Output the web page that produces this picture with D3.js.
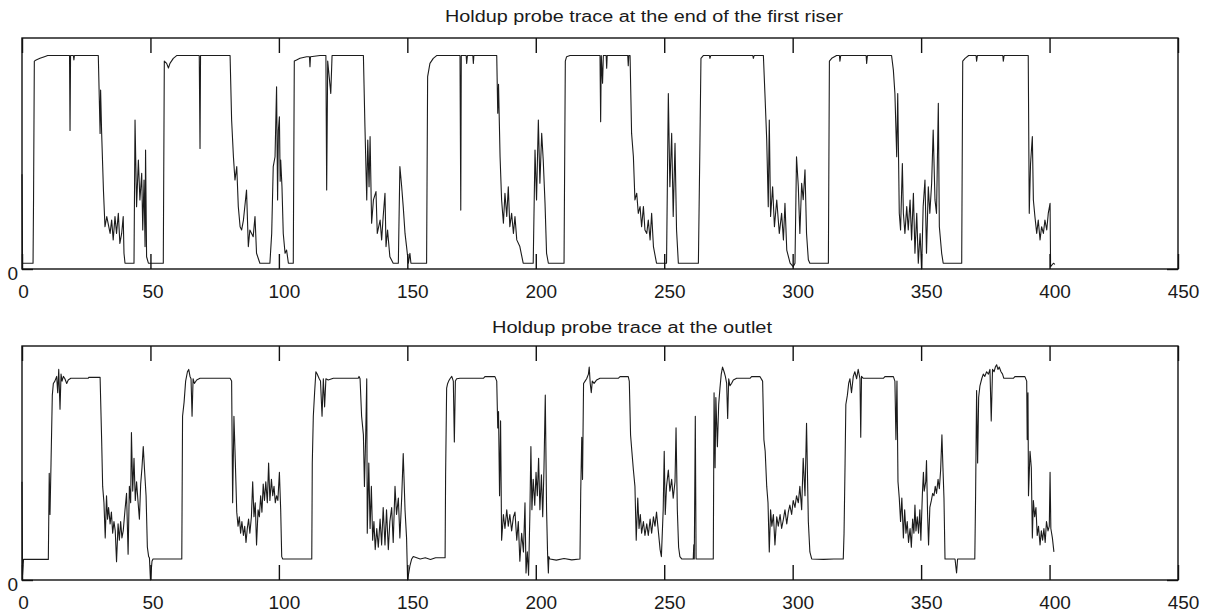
<!DOCTYPE html>
<html>
<head>
<meta charset="utf-8">
<script src="https://cdn.jsdelivr.net/npm/d3@7"></script>
<style>
  html, body { margin: 0; padding: 0; background: #fff; }
  svg { display: block; }
  text { font-family: "Liberation Sans", Arial, sans-serif; fill: #1a1a1a; }
</style>
</head>
<body>
<svg id="chart" width="1214" height="613"></svg>
<script>
// ---- data ----
const xTicks = [0, 50, 100, 150, 200, 250, 300, 350, 400, 450];
const xTickLabels = ["0", "50", "100", "150", "200", "250", "300", "350", "400", "450"];
const yTicks = [0];
const yTickLabels = ["0"];
const titles = ["Holdup probe trace at the end of the first riser", "Holdup probe trace at the outlet"];

const riserTrace = [
[0,0.41],[0.2,0.025],[4.3,0.025],[4.5,0.31],[4.8,0.90],[5.5,0.905],[7,0.912],[9,0.92],[10,0.924],[18.5,0.924],[18.7,0.60],[18.9,0.924],[20,0.924],[20.2,0.905],[20.4,0.924],[29.7,0.924],
[30.4,0.587],[30.6,0.775],[31.0,0.59],[31.7,0.342],[32.3,0.183],[33.0,0.227],[34.3,0.154],[34.9,0.212],[35.5,0.126],[36.2,0.227],[36.8,0.154],[37.5,0.241],[38.1,0.111],[38.8,0.154],[39.4,0.227],[39.7,0.068],[40.1,0.025],
[43.6,0.025],[44.0,0.645],[44.6,0.270],[45.3,0.472],[45.9,0.299],[46.6,0.414],[47.0,0.169],[47.5,0.385],[47.9,0.097],[48.1,0.515],[48.5,0.053],[49.2,0.025],
[55.0,0.025],[55.4,0.90],[56.3,0.89],[57.0,0.87],[57.6,0.89],[58.9,0.912],[60.2,0.924],[69.0,0.924],[69.3,0.522],[69.5,0.924],[81.0,0.924],
[81.6,0.645],[82.3,0.486],[82.9,0.385],[83.6,0.443],[84.2,0.270],[84.9,0.183],[85.5,0.169],[86.2,0.212],[87.4,0.342],[88.1,0.097],[88.7,0.169],[90.0,0.140],[90.7,0.227],[91.3,0.068],[92.6,0.025],
[96.5,0.025],[97.2,0.154],[97.8,0.443],[98.5,0.486],[99.1,0.789],[99.5,0.299],[99.8,0.60],[100.2,0.659],[100.5,0.38],[100.7,0.472],[101.2,0.356],[101.7,0.154],[102.4,0.068],[103.0,0.082],[103.7,0.025],
[105.6,0.025],[106.0,0.90],[106.9,0.905],[108.2,0.912],[110.8,0.919],[111.9,0.919],[112.1,0.876],[112.3,0.919],[116.0,0.924],[118.3,0.924],[118.6,0.342],[119.0,0.90],[119.6,0.83],[120.2,0.76],[120.7,0.924],[132.9,0.924],
[133.5,0.616],[134.2,0.299],[134.6,0.558],[135.1,0.356],[135.5,0.573],[136.1,0.198],[136.8,0.299],[137.8,0.335],[138.3,0.154],[139.4,0.212],[140.0,0.126],[140.6,0.227],[141.3,0.328],[141.7,0.097],[142.3,0.169],[143.2,0.053],[144.5,0.025],
[146.5,0.025],[147.1,0.443],[147.8,0.356],[148.4,0.270],[149.1,0.154],[149.7,0.097],[150.4,0.025],[151.0,0.068],[151.4,0.025],
[157.5,0.025],[157.9,0.833],[158.8,0.89],[160.1,0.912],[161.4,0.924],[170.5,0.924],[170.8,0.255],[171.0,0.924],[172.9,0.924],[173.1,0.89],[173.4,0.924],[175.5,0.924],[175.7,0.89],[175.9,0.924],[184.8,0.924],
[185.2,0.674],[185.5,0.80],[186.1,0.486],[186.7,0.299],[187.4,0.198],[188.0,0.328],[188.7,0.227],[189.3,0.356],[189.9,0.183],[190.6,0.241],[191.3,0.154],[191.9,0.227],[192.6,0.126],[193.8,0.097],[195.1,0.025],
[199.0,0.025],[199.7,0.515],[200.3,0.299],[201.0,0.645],[201.6,0.371],[202.3,0.587],[202.9,0.472],[203.6,0.284],[204.2,0.068],[204.9,0.025],
[211.0,0.025],[211.5,0.90],[212.0,0.919],[213.3,0.924],[225.0,0.924],[225.25,0.638],[225.5,0.924],[226.0,0.804],[226.3,0.924],[227.4,0.924],[227.6,0.869],[227.8,0.924],[235.8,0.924],[236.0,0.88],[236.2,0.924],[236.7,0.924],
[237.3,0.587],[238.0,0.486],[238.6,0.299],[239.3,0.328],[239.9,0.241],[240.6,0.270],[241.2,0.183],[241.9,0.270],[242.5,0.169],[243.2,0.154],[243.8,0.212],[244.5,0.126],[245.1,0.241],[245.8,0.097],[247.0,0.025],
[250.9,0.025],[251.6,0.76],[252.2,0.356],[252.9,0.587],[253.5,0.227],[254.2,0.544],[254.8,0.169],[255.5,0.025],
[263.3,0.025],[263.9,0.544],[264.3,0.912],[265.2,0.924],[267.6,0.924],[267.8,0.912],[268.1,0.924],[284.5,0.924],[284.7,0.912],[285.0,0.924],[288.6,0.924],
[289.2,0.760],[289.9,0.558],[290.5,0.270],[290.9,0.645],[291.4,0.227],[292.2,0.356],[292.9,0.183],[293.8,0.299],[294.8,0.154],[295.7,0.241],[296.4,0.126],[297.0,0.284],[297.7,0.082],[299.0,0.025],[300.2,0.01],[300.9,0.025],
[301.5,0.486],[302.2,0.356],[302.8,0.154],[303.5,0.371],[304.1,0.30],[304.8,0.429],[305.4,0.154],[306.1,0.04],[306.7,0.025],
[313.9,0.025],[314.3,0.90],[315.2,0.912],[317.1,0.924],[318.2,0.924],[318.4,0.90],[318.7,0.924],[328.6,0.924],[328.8,0.89],[329.1,0.924],[338.5,0.924],
[339.2,0.861],[339.8,0.760],[340.5,0.486],[340.9,0.760],[341.5,0.241],[342.0,0.169],[342.7,0.457],[343.1,0.241],[343.7,0.154],[344.4,0.270],[345.0,0.169],[345.7,0.299],[346.3,0.126],[347.0,0.328],[347.6,0.068],[348.3,0.241],[348.9,0.025],[349.6,0.154],[350.2,0.0],[350.8,0.270],[351.5,0.385],[352.1,0.068],[352.8,0.356],[353.4,0.241],[354.1,0.371],[354.7,0.602],[355.4,0.299],[356.0,0.241],[356.7,0.717],[357.1,0.183],[358.0,0.068],[358.6,0.025],
[365.8,0.025],[366.2,0.90],[367.1,0.912],[368.5,0.924],[371.4,0.924],[371.6,0.90],[371.9,0.924],[381.8,0.924],[382.0,0.90],[382.3,0.924],[391.7,0.924],
[392.1,0.241],[392.6,0.457],[393.3,0.573],[393.7,0.299],[394.3,0.227],[395.0,0.154],[395.6,0.212],[396.3,0.126],[396.9,0.183],[397.6,0.154],[398.2,0.212],[398.9,0.169],[399.5,0.241],[400.2,0.284],[400.4,0.01],[401.5,0.025],[402.1,0.02]
];

const outletTrace = [
[0,0.42],[0.2,0.02],[0.6,0.088],[10.25,0.088],[10.6,0.456],[10.9,0.28],[11.3,0.50],[11.8,0.79],[12.2,0.84],[12.8,0.85],[13.5,0.87],[13.9,0.80],[14.3,0.90],[14.8,0.73],[15.2,0.88],[15.6,0.85],[16.1,0.87],[16.7,0.86],[17.4,0.84],[18.0,0.855],[19.0,0.862],[25.8,0.862],[26.0,0.866],[30.4,0.866],
[31.0,0.60],[31.4,0.40],[31.9,0.33],[32.4,0.18],[32.9,0.36],[33.3,0.26],[33.7,0.31],[34.3,0.24],[34.8,0.29],[35.3,0.20],[35.8,0.25],[36.3,0.21],[36.8,0.078],[37.4,0.24],[37.9,0.17],[38.4,0.25],[38.9,0.18],[39.4,0.21],[40.1,0.30],[40.7,0.37],[41.3,0.11],[41.8,0.40],[42.3,0.33],[42.6,0.63],[43.1,0.38],[43.6,0.52],[44.1,0.34],[44.6,0.42],[45.2,0.33],[45.7,0.26],[46.2,0.41],[46.7,0.48],[47.2,0.57],[47.7,0.47],[48.3,0.36],[48.8,0.14],[49.3,0.10],[49.6,0.095],[50.0,0.0],[50.6,0.08],[51.0,0.09],
[62.2,0.09],[62.5,0.70],[63.1,0.76],[63.7,0.85],[64.4,0.89],[64.9,0.90],[65.4,0.87],[65.8,0.86],[66.2,0.70],[66.6,0.86],[67.1,0.84],[68.0,0.855],[69.3,0.862],[81.0,0.862],
[81.6,0.85],[82.0,0.33],[82.5,0.70],[83.0,0.52],[83.6,0.29],[84.1,0.23],[84.6,0.27],[85.1,0.20],[85.6,0.25],[86.2,0.19],[86.7,0.23],[87.2,0.16],[87.7,0.22],[88.2,0.26],[88.7,0.20],[89.3,0.27],[89.8,0.42],[90.3,0.27],[90.8,0.33],[91.3,0.15],[91.9,0.30],[92.4,0.27],[92.9,0.36],[93.4,0.29],[93.9,0.41],[94.4,0.34],[94.9,0.42],[95.5,0.33],[96.0,0.50],[96.5,0.34],[97.1,0.43],[97.6,0.36],[98.1,0.40],[98.6,0.33],[99.1,0.36],[99.6,0.34],[100.2,0.46],[100.7,0.30],[101.1,0.10],[101.5,0.09],
[112.8,0.09],[113.0,0.50],[113.4,0.70],[113.9,0.80],[114.4,0.89],[114.9,0.88],[115.7,0.86],[116.2,0.85],[116.8,0.70],[117.3,0.86],[117.8,0.74],[118.3,0.86],[119.2,0.855],[121.2,0.862],[130.9,0.862],[131.2,0.87],[131.6,0.86],[132.2,0.70],[132.9,0.62],[133.3,0.40],[133.8,0.62],[134.2,0.86],[134.4,0.20],[135.0,0.50],[135.5,0.22],[136.0,0.40],[136.5,0.17],[137.0,0.25],[137.5,0.13],[138.1,0.22],[138.7,0.14],[139.4,0.26],[140.0,0.15],[140.6,0.31],[141.3,0.15],[141.9,0.30],[142.6,0.13],[143.2,0.25],[143.9,0.31],[144.5,0.16],[145.2,0.40],[145.8,0.28],[146.5,0.35],[147.1,0.18],[147.8,0.35],[148.4,0.54],[149.1,0.30],[149.7,0.18],[150.1,0.0],[151.0,0.06],[151.7,0.09],[152.3,0.10],
[155,0.09],[157,0.095],[159,0.088],[161,0.095],[164.7,0.095],
[164.9,0.45],[165.3,0.82],[165.7,0.84],[166.1,0.85],[166.6,0.86],[167.3,0.87],[167.9,0.85],[168.3,0.59],[168.7,0.85],[169.2,0.86],[170.5,0.862],[179.6,0.862],[180.2,0.869],[184.1,0.869],[184.8,0.85],
[185.2,0.65],[185.5,0.72],[185.9,0.36],[186.3,0.68],[186.7,0.17],[187.4,0.28],[188.0,0.22],[188.7,0.30],[189.3,0.23],[189.9,0.28],[190.6,0.21],[191.3,0.27],[191.9,0.29],[192.6,0.17],[193.2,0.25],[193.8,0.08],[194.5,0.20],[195.2,0.12],[195.8,0.33],[196.2,0.03],[196.7,0.12],[197.2,0.02],[197.7,0.28],[198.1,0.57],[198.5,0.30],[199.0,0.43],[199.6,0.32],[200.1,0.46],[200.6,0.36],[201.1,0.52],[201.6,0.30],[202.2,0.45],[202.7,0.27],[203.2,0.48],[203.7,0.79],[204.2,0.30],[204.6,0.11],[204.9,0.03],[205.1,0.10],[205.5,0.09],
[208,0.085],[211,0.092],[214,0.086],[217.2,0.09],
[217.5,0.38],[217.9,0.61],[218.2,0.43],[218.6,0.84],[219.2,0.85],[219.8,0.86],[220.5,0.88],[220.8,0.91],[221.2,0.84],[221.6,0.80],[222.0,0.85],[222.7,0.84],[223.7,0.855],[225.0,0.862],[232.1,0.862],[232.8,0.869],[236.0,0.869],[236.4,0.85],
[236.9,0.62],[237.4,0.55],[238.0,0.47],[238.6,0.40],[239.1,0.17],[239.7,0.35],[240.2,0.22],[240.7,0.28],[241.2,0.20],[241.9,0.25],[242.5,0.19],[243.2,0.24],[243.8,0.19],[244.5,0.26],[245.1,0.20],[245.8,0.27],[246.4,0.23],[247.0,0.29],[247.7,0.21],[248.4,0.13],[248.9,0.10],[249.6,0.30],[250.0,0.55],[250.4,0.28],[250.9,0.40],[251.6,0.47],[252.2,0.38],[252.9,0.43],[253.5,0.35],[254.2,0.42],[254.6,0.65],[255.1,0.30],[255.6,0.14],[256.1,0.10],[256.8,0.09],
[261.3,0.09],[261.5,0.15],[261.7,0.09],[262.1,0.70],[262.4,0.09],[269.1,0.09],
[269.4,0.80],[269.8,0.48],[270.1,0.78],[270.7,0.57],[271.2,0.75],[271.7,0.82],[272.2,0.88],[272.7,0.91],[273.3,0.89],[273.8,0.87],[274.3,0.84],[274.7,0.69],[275.1,0.86],[275.6,0.83],[276.2,0.84],[276.9,0.855],[278.2,0.862],[283.4,0.862],[284.0,0.869],[287.3,0.869],[288.3,0.85],
[288.8,0.60],[289.3,0.55],[289.9,0.40],[290.4,0.33],[290.9,0.12],[291.4,0.30],[291.9,0.23],[292.5,0.28],[293.1,0.15],[293.8,0.27],[294.4,0.23],[295.1,0.28],[295.7,0.22],[296.4,0.26],[297.0,0.30],[297.7,0.24],[298.3,0.29],[298.9,0.32],[299.6,0.28],[300.2,0.34],[300.9,0.31],[301.5,0.36],[302.2,0.33],[302.8,0.40],[303.5,0.30],[304.1,0.52],[304.8,0.36],[305.4,0.67],[306.1,0.25],[306.7,0.12],[307.4,0.09],
[312,0.088],[316,0.09],[319.7,0.09],
[320.0,0.20],[320.4,0.50],[320.7,0.75],[321.3,0.79],[321.8,0.84],[322.3,0.86],[322.9,0.80],[323.6,0.87],[324.2,0.89],[324.9,0.86],[325.5,0.90],[326.2,0.86],[326.5,0.61],[326.8,0.87],[327.5,0.862],[335.3,0.862],[335.9,0.869],[339.2,0.869],[339.8,0.85],
[340.2,0.60],[340.6,0.85],[341.0,0.42],[341.5,0.35],[342.0,0.25],[342.5,0.35],[343.1,0.18],[343.6,0.30],[344.1,0.20],[344.6,0.25],[345.1,0.16],[345.7,0.22],[346.2,0.14],[346.7,0.26],[347.2,0.20],[347.6,0.32],[348.0,0.21],[348.5,0.27],[349.0,0.20],[349.5,0.30],[349.9,0.17],[350.5,0.37],[350.9,0.46],[351.2,0.38],[351.8,0.42],[352.1,0.51],[352.5,0.29],[352.9,0.15],[353.4,0.31],[354.0,0.34],[354.5,0.37],[355.0,0.36],[355.5,0.40],[356.0,0.37],[356.6,0.43],[357.1,0.39],[357.6,0.47],[358.1,0.62],[358.5,0.48],[358.9,0.35],[359.3,0.09],
[363.2,0.09],[363.8,0.03],[364.2,0.09],[370.9,0.09],
[371.2,0.35],[371.6,0.81],[372.0,0.50],[372.4,0.78],[372.9,0.83],[373.6,0.86],[374.2,0.88],[374.8,0.87],[375.5,0.89],[376.2,0.88],[376.8,0.90],[377.3,0.68],[377.8,0.90],[378.4,0.89],[378.9,0.91],[379.4,0.92],[379.9,0.90],[380.4,0.91],[381.1,0.89],[381.7,0.88],[382.2,0.862],[385.9,0.862],[386.5,0.869],[390.4,0.869],[391.1,0.85],
[391.3,0.60],[391.6,0.80],[391.8,0.36],[392.4,0.55],[392.9,0.48],[393.3,0.18],[393.7,0.34],[394.2,0.27],[394.7,0.31],[395.2,0.19],[395.7,0.23],[396.3,0.15],[396.8,0.21],[397.3,0.17],[397.8,0.22],[398.3,0.16],[398.8,0.25],[399.4,0.21],[399.9,0.23],[400.2,0.46],[400.5,0.22],[401.1,0.18],[401.7,0.12]
];

// ---- layout ----
const svg = d3.select("#chart");
const left = 22, right = 1178;
const panels = [
  { top: 38, bottom: 269, data: riserTrace, title: titles[0], titleX: 445, titleY: 22, titleW: 398 },
  { top: 346, bottom: 580, data: outletTrace, title: titles[1], titleX: 492, titleY: 333, titleW: 280 }
];
const labelShift = { 1: 1, 2: 2, 3: 5 };

const x = d3.scaleLinear().domain([0, 450]).range([left, right]);

panels.forEach(p => {
  const y = d3.scaleLinear().domain([0, 1]).range([p.bottom, p.top]);
  const g = svg.append("g");

  // trace
  const line = d3.line().x(d => x(d[0])).y(d => y(d[1]));
  g.append("path")
    .datum(p.data)
    .attr("d", line)
    .attr("fill", "none")
    .attr("stroke", "#1c1c1c")
    .attr("stroke-width", 1.1)
    .attr("stroke-linejoin", "round");

  // box
  g.append("rect")
    .attr("x", left).attr("y", p.top)
    .attr("width", right - left).attr("height", p.bottom - p.top)
    .attr("fill", "none").attr("stroke", "#111").attr("stroke-width", 1.4);

  // bottom axis (inward ticks + labels)
  const axB = g.append("g").attr("transform", `translate(0,${p.bottom})`)
    .call(d3.axisBottom(x).tickValues(xTicks).tickFormat((d, i) => xTickLabels[i]).tickSizeInner(-15).tickSizeOuter(0));
  axB.select(".domain").remove();
  axB.selectAll("line").attr("stroke", "#111").attr("stroke-width", 1.4);
  axB.selectAll("text").attr("y", 29).attr("dy", 0)
    .attr("dx", (d, i) => labelShift[xTickLabels[i].length])
    .style("font-size", "19px").style("font-family", "'Liberation Sans', Arial, sans-serif").attr("fill", "#1a1a1a");

  // top axis (inward ticks, no labels)
  const axT = g.append("g").attr("transform", `translate(0,${p.top})`)
    .call(d3.axisTop(x).tickValues(xTicks).tickFormat("").tickSizeInner(-15).tickSizeOuter(0));
  axT.select(".domain").remove();
  axT.selectAll("line").attr("stroke", "#111").attr("stroke-width", 1.4);

  // left axis
  const axL = g.append("g").attr("transform", `translate(${left},0)`)
    .call(d3.axisLeft(y).tickValues(yTicks).tickFormat((d, i) => yTickLabels[i]).tickSizeInner(-11).tickSizeOuter(0));
  axL.select(".domain").remove();
  axL.selectAll("line").attr("stroke", "#111").attr("stroke-width", 1.4);
  axL.selectAll("text").attr("x", -4).attr("y", 10).attr("dy", 0)
    .style("font-size", "19px").style("font-family", "'Liberation Sans', Arial, sans-serif").attr("fill", "#1a1a1a");

  // right axis
  const axR = g.append("g").attr("transform", `translate(${right},0)`)
    .call(d3.axisRight(y).tickValues(yTicks).tickFormat("").tickSizeInner(-11).tickSizeOuter(0));
  axR.select(".domain").remove();
  axR.selectAll("line").attr("stroke", "#111").attr("stroke-width", 1.4);

  // title
  g.append("text")
    .attr("x", p.titleX).attr("y", p.titleY)
    .attr("textLength", p.titleW).attr("lengthAdjust", "spacingAndGlyphs")
    .style("font-size", "16px")
    .text(p.title);
});
</script>
</body>
</html>
